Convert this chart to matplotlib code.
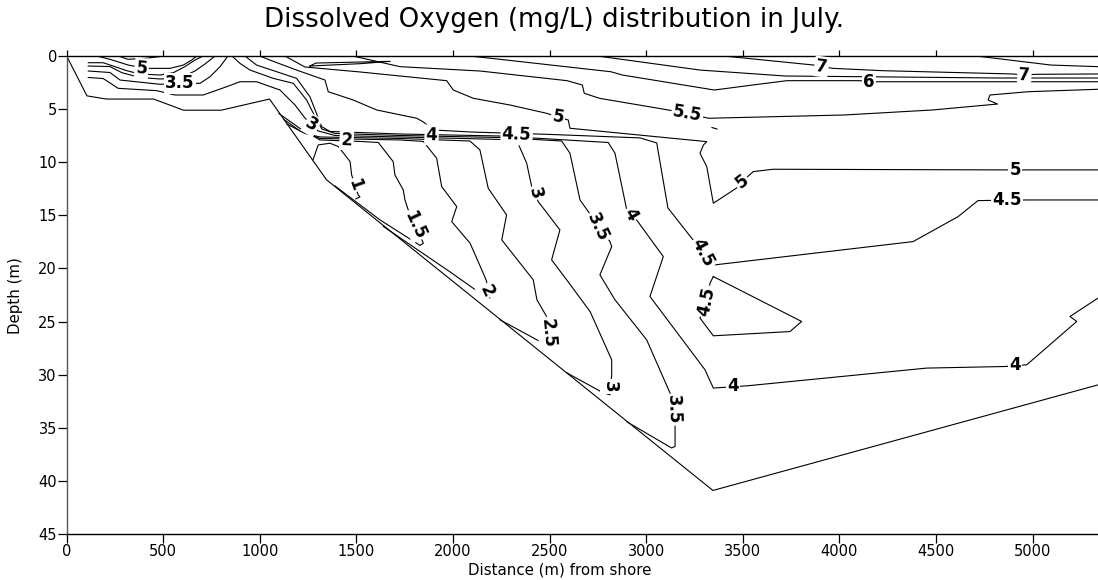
import matplotlib
matplotlib.use('Agg')
import matplotlib.pyplot as plt

plt.rcParams['font.family'] = ['DejaVu Sans']

# ---------------- data (distance from shore in m, depth in m) ----------------
bottom_x = [0, 105, 205, 450, 605, 800, 1050, 1345, 3345, 5340]
bottom_depth = [0, 3.75, 4.05, 4.05, 5.1, 5.1, 4.05, 11.65, 40.9, 30.95]

c1_x = [1275, 1302, 1363, 1406, 1467, 1475, 1492, 1509, 1518, 1497]
c1_d = [9.78, 8.37, 8.21, 8.52, 9.94, 11.19, 12.14, 13.08, 13.26, 13.45]

c15_x = [1099, 1208, 1311, 1518, 1613, 1690, 1699, 1742, 1751, 1768, 1803, 1846, 1829, 1622, 1389]
c15_d = [5.42, 6.82, 7.9, 8.04, 8.14, 9.94, 11.19, 12.6, 13.55, 14.49, 15.9, 17.62, 17.83, 15.43, 12.23]

c2_x = [1125, 1208, 1311, 1725, 1846, 1915, 1941, 2019, 1993, 2088, 2156, 2174, 2175, 2191, 2165, 1984, 1639]
c2_d = [5.98, 7.05, 7.76, 7.9, 8.04, 9.62, 12.29, 14.18, 15.59, 17.62, 20.44, 21.23, 22.11, 22.77, 22.64, 20.32, 16.04]

c25_x = [1140, 1233, 1311, 1725, 2087, 2139, 2182, 2277, 2252, 2415, 2434, 2484, 2493, 2484, 2450, 2243]
c25_d = [6.4, 7.29, 7.62, 7.76, 8.0, 8.84, 12.45, 14.96, 17.31, 21.07, 22.95, 24.52, 26.06, 27.19, 26.88, 24.83]

c3_x = [112, 189, 267, 466, 561, 707, 828, 897, 983, 1104, 1182, 1233, 1265, 1301, 1389, 1725, 2243,
        2331, 2381, 2407, 2441, 2553, 2510, 2588, 2709, 2821, 2821, 2812, 2776, 2588]
c3_d = [2.02, 2.12, 3.04, 3.26, 3.67, 3.67, 2.89, 2.42, 2.42, 3.2, 4.61, 5.83, 6.4, 7.05, 7.48, 7.62, 7.85,
        8.0, 10.09, 12.29, 13.71, 16.37, 19.19, 21.07, 24.05, 28.6, 30.01, 31.89, 31.7, 29.82]

c35a_x = [112, 224, 276, 483, 587, 690, 742, 794, 835]
c35a_d = [1.41, 1.55, 2.26, 2.66, 2.57, 2.57, 1.95, 1.0, 0]
c35_x = [856, 897, 949, 1069, 1173, 1242, 1294, 1321, 1389, 1725, 2243, 2562, 2605, 2657, 2700, 2812,
         2821, 2760, 2838, 3002, 3123, 3149, 3149, 3131, 2899]
c35_d = [0, 0.69, 1.32, 2.1, 2.57, 4.14, 6.02, 6.87, 7.29, 7.48, 7.67, 8.0, 9.15, 13.55, 14.65, 17.47,
         17.94, 20.6, 22.95, 26.72, 31.73, 34.55, 36.75, 36.9, 34.43]

c4a_x = [112, 224, 286, 379, 483, 587, 664, 716, 768]
c4a_d = [0.94, 0.99, 1.57, 2.02, 2.16, 2.07, 1.41, 0.75, 0]
c4_x = [923, 983, 1190, 1259, 1320, 1363, 1725, 2243, 2803, 2838, 2899, 2950, 3088, 3019, 3304, 3347,
        3527, 4451, 4857, 4969, 5228, 5193, 5338]
c4_d = [0, 0.85, 2.1, 3.83, 6.65, 7.1, 7.34, 7.53, 8.14, 9.15, 14.49, 15.43, 18.88, 22.64, 29.54, 31.26,
        31.04, 29.38, 29.23, 29.07, 24.99, 24.52, 22.79]

c45a_x = [112, 189, 250, 311, 379, 483, 552, 612, 664, 706]
c45a_d = [0.63, 0.63, 1.0, 1.38, 1.69, 1.79, 1.57, 1.0, 0.38, 0]
c45_x = [1000, 1052, 1190, 1337, 1354, 1483, 1605, 1812, 1846, 1898, 2087, 2502, 2968, 3054, 3112, 3242,
         3356, 4381, 4614, 4717, 4971, 5338]
c45_d = [0, 0.38, 1.32, 2.26, 3.36, 4.14, 5.08, 5.86, 6.21, 6.96, 7.15, 7.38, 7.71, 8.18, 14.3, 17.31,
         19.66, 17.47, 15.12, 13.61, 13.55, 13.55]
c45b_x = [3347, 3804, 3744, 3347, 3278, 3313, 3330, 3347]
c45b_d = [20.76, 24.99, 25.94, 26.34, 24.67, 23.11, 21.38, 20.76]

c5a_x = [155, 224, 319, 362, 431, 535, 604, 647, 673]
c5a_d = [0, 0.31, 0.85, 1.0, 1.16, 1.16, 0.85, 0.38, 0]
c5_x = [1130, 1233, 1518, 1829, 1967, 2001, 2105, 2294, 2484, 2543, 2596, 2605, 3313, 3296, 3278, 3313,
        3347, 3468, 3494, 3554, 3656, 4831, 4909, 5338]
c5_d = [0, 1.03, 1.5, 2.07, 2.32, 3.2, 3.98, 4.61, 5.39, 5.74, 6.02, 6.8, 8.06, 8.37, 9.15, 10.41,
        13.86, 12.42, 11.85, 10.88, 10.66, 10.72, 10.72, 10.72]

c55a_x = [276, 317, 405, 483]
c55a_d = [0.05, 0.31, 0.22, 0.05]
c55b_x = [1259, 1290, 1675, 1520, 1259]
c55b_d = [0.94, 0.66, 0.5, 0.72, 0.94]
c55_x = [1482, 1725, 2139, 2590, 2669, 2679, 2758, 3114, 3213, 3322, 4026, 4481, 4818, 4769, 4779, 4976, 5338]
c55_d = [0, 1.0, 1.41, 2.32, 2.73, 3.51, 3.98, 5.08, 5.39, 5.86, 5.55, 5.08, 4.52, 4.14, 3.67, 3.36, 3.13]
c55c_x = [3340, 3366]
c55c_d = [6.73, 6.87]

c6_x = [2087, 2243, 2817, 2877, 3352, 3550, 3728, 4105, 4154, 5338]
c6_d = [0, 0.31, 1.48, 1.79, 3.2, 2.73, 2.32, 2.32, 2.42, 2.42]
c65_x = [2748, 3278, 3718, 4313, 4831, 5338]
c65_d = [0, 1.32, 1.88, 1.98, 2.07, 2.07]
c7_x = [3402, 3867, 3907, 3966, 4224, 4897, 4957, 5016, 5338]
c7_d = [0, 0.85, 1.0, 1.16, 1.38, 1.69, 1.79, 1.72, 1.69]
c75_x = [4709, 5095, 5338]
c75_d = [0, 0.85, 1.0]

contour_lines = [
    (c1_x, c1_d), (c15_x, c15_d), (c2_x, c2_d), (c25_x, c25_d), (c3_x, c3_d),
    (c35a_x, c35a_d), (c35_x, c35_d), (c4a_x, c4a_d), (c4_x, c4_d),
    (c45a_x, c45a_d), (c45_x, c45_d), (c45b_x, c45b_d), (c5a_x, c5a_d), (c5_x, c5_d),
    (c55a_x, c55a_d), (c55b_x, c55b_d), (c55_x, c55_d), (c55c_x, c55c_d),
    (c6_x, c6_d), (c65_x, c65_d), (c7_x, c7_d), (c75_x, c75_d),
]

# contour labels
label_text = ['5', '3.5', '3', '2', '4', '4.5', '1', '1.5', '2', '2.5', '3', '3', '3.5', '3.5',
              '4', '4', '4', '4.5', '4.5', '4.5', '5', '5', '5', '5.5', '6', '7', '7']
label_x = [388, 587, 1268, 1449, 1889, 2329, 1492, 1803, 2175, 2493, 2424, 2812, 2750, 3138,
           2916, 3449, 4909, 3294, 3313, 4867, 2543, 3494, 4909, 3213, 4154, 3907, 4957]
label_depth = [1.16, 2.57, 6.49, 7.9, 7.43, 7.43, 12.14, 15.9, 22.11, 26.06, 12.89, 31.11, 16.09, 33.3,
               14.96, 31.11, 29.07, 18.53, 23.11, 13.55, 5.74, 11.85, 10.72, 5.39, 2.42, 1.0, 1.79]
label_angle = [-5, 0, -30, -3, -2, -2, -70, -65, -65, -85, -75, -90, -65, -88,
               -60, 0, 0, -62, 78, 0, -10, 38, 0, -10, 0, -8, -3]

x_ticks = list(range(0, 5001, 500))
y_ticks = list(range(0, 46, 5))

# ---------------- figure ----------------
fig = plt.figure(figsize=(10.98, 5.80), dpi=100)
ax = fig.add_axes([0.0607, 0.0793, 0.9393, 0.8241])

ax.plot(bottom_x, bottom_depth, color='black', lw=0.8)
for xs, ds in contour_lines:
    ax.plot(xs, ds, color='black', lw=0.8)

for t, x, d, a in zip(label_text, label_x, label_depth, label_angle):
    ax.text(x, d, t, fontsize=12, fontweight='bold', ha='center', va='center',
            rotation=a, rotation_mode='anchor', zorder=5,
            bbox=dict(boxstyle='square,pad=0.08', fc='white', ec='none'))

ax.set_xlim(0, 5338)
ax.set_ylim(45, 0)
ax.set_xticks(x_ticks)
ax.set_yticks(y_ticks)
ax.spines['right'].set_visible(False)
for s in ['left', 'bottom', 'top']:
    ax.spines[s].set_linewidth(1.0)
ax.spines['left'].set_color('#555555')
ax.tick_params(axis='x', which='major', direction='out', length=6.5, width=0.9,
               top=True, labeltop=False, labelsize=10.5, pad=1.0)
ax.tick_params(axis='y', which='major', direction='out', length=6.5, width=0.9,
               labelsize=10.5, pad=0.5)
for tk in ax.xaxis.get_major_ticks():
    tk.tick2line.set_markersize(4.5)

fig.text(0.505, 0.9655, 'Dissolved Oxygen (mg/L) distribution in July.', fontsize=18.8,
         ha='center', va='center')
fig.text(0.510, 0.017, 'Distance (m) from shore', fontsize=10.8, ha='center', va='center')
fig.text(0.0137, 0.491, 'Depth (m)', fontsize=10.8, rotation=90, ha='center', va='center')

fig.savefig('out.png', dpi=100)
